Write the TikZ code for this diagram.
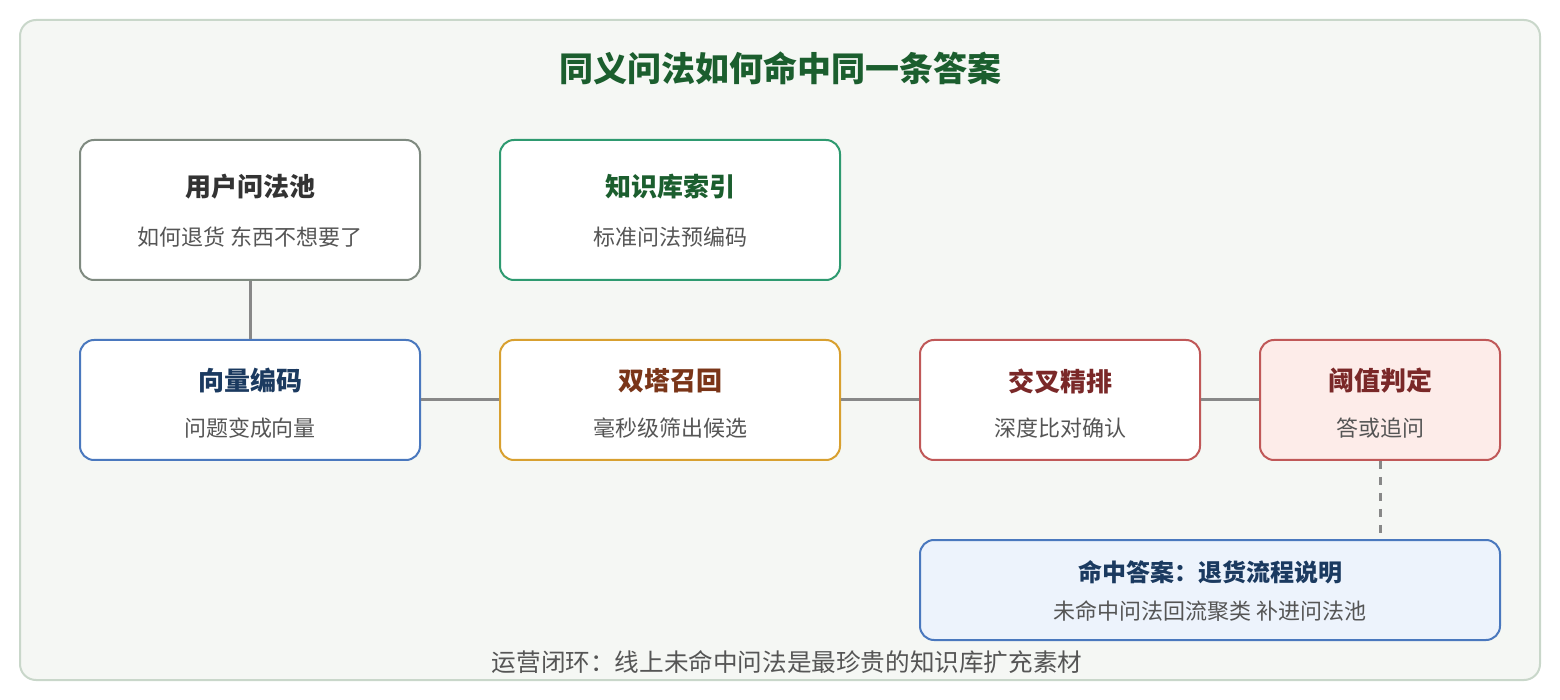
\documentclass[tikz,border=0pt]{standalone}
\usepackage{fontspec}
\setmainfont{Noto Sans CJK SC}
\begin{document}
\begin{tikzpicture}[x=0.5pt,y=-0.5pt,
  box/.style={draw,line width=1pt,rounded corners=7pt,fill=white,inner sep=0pt},
  ttl/.style={font=\bfseries\fontsize{13}{15}\selectfont},
  sub/.style={font=\fontsize{11}{13}\selectfont,text=subgray},
  link/.style={draw=linkgray,line width=1.5pt},
]
\definecolor{bgfill}{HTML}{F5F7F4}
\definecolor{bgline}{HTML}{C9D7CA}
\definecolor{subgray}{HTML}{555555}
\definecolor{linkgray}{HTML}{888888}
\definecolor{grayb}{HTML}{7F8A80}
\definecolor{greenb}{HTML}{2E9A70}
\definecolor{greent}{HTML}{1B5E2E}
\definecolor{blueb}{HTML}{4A78BE}
\definecolor{bluet}{HTML}{1B3A60}
\definecolor{orangeb}{HTML}{D8A030}
\definecolor{brownt}{HTML}{7A3518}
\definecolor{redb}{HTML}{C05858}
\definecolor{redt}{HTML}{7A2828}
\definecolor{pinkf}{HTML}{FDECE9}
\definecolor{lbluef}{HTML}{EDF3FC}
\definecolor{darkt}{HTML}{333333}
\useasboundingbox (0,0) rectangle (1560,700);
\node[draw=bgline,fill=bgfill,line width=1pt,rounded corners=8pt,minimum width=1520pt*0.5,minimum height=660pt*0.5,inner sep=0pt] (frame) at (780,350) {};
\node[font=\bfseries\fontsize{17}{20}\selectfont,text=greent] (title) at (780,68) {同义问法如何命中同一条答案};

% boxes
\node[box,draw=grayb,minimum width=170pt,minimum height=70pt] (pool) at (250,210) {};
\node[ttl,text=darkt] (poolt) at (250,187) {用户问法池};
\node[sub] (pools) at (250,237) {如何退货 东西不想要了};

\node[box,draw=greenb,minimum width=170pt,minimum height=70pt] (kb) at (670,210) {};
\node[ttl,text=greent] (kbt) at (670,187) {知识库索引};
\node[sub] (kbs) at (670,237) {标准问法预编码};

\node[box,draw=blueb,minimum width=170pt,minimum height=60pt] (enc) at (250,400) {};
\node[ttl,text=bluet] (enct) at (250,381) {向量编码};
\node[sub] (encs) at (250,428) {问题变成向量};

\node[box,draw=orangeb,minimum width=170pt,minimum height=60pt] (recall) at (670,400) {};
\node[ttl,text=brownt] (recallt) at (670,381) {双塔召回};
\node[sub] (recalls) at (670,428) {毫秒级筛出候选};

\node[box,draw=redb,minimum width=140pt,minimum height=60pt] (rank) at (1060,400) {};
\node[ttl,text=redt] (rankt) at (1060,381) {交叉精排};
\node[sub] (ranks) at (1060,428) {深度比对确认};

\node[box,draw=redb,fill=pinkf,minimum width=120pt,minimum height=60pt] (thr) at (1380,400) {};
\node[ttl,text=redt] (thrt) at (1380,381) {阈值判定};
\node[sub] (thrs) at (1380,428) {答或追问};

\node[box,draw=blueb,fill=lbluef,minimum width=290pt,minimum height=50pt] (ans) at (1210,590) {};
\node[font=\bfseries\fontsize{12}{14}\selectfont,text=bluet] (anst) at (1210,572) {命中答案：退货流程说明};
\node[sub] (anss) at (1210,611) {未命中问法回流聚类 补进问法池};

\node[font=\fontsize{12.3}{14}\selectfont,text=subgray] (foot) at (787,662) {运营闭环：线上未命中问法是最珍贵的知识库扩充素材};

% connectors
\draw[link] (pool.south) -- (enc.north);
\draw[link] (enc.east) -- (recall.west);
\draw[link] (recall.east) -- (rank.west);
\draw[link] (rank.east) -- (thr.west);
\draw[link,dash pattern=on 4pt off 4pt] (thr.south) -- (thr.south |- ans.north);
\end{tikzpicture}
\end{document}
